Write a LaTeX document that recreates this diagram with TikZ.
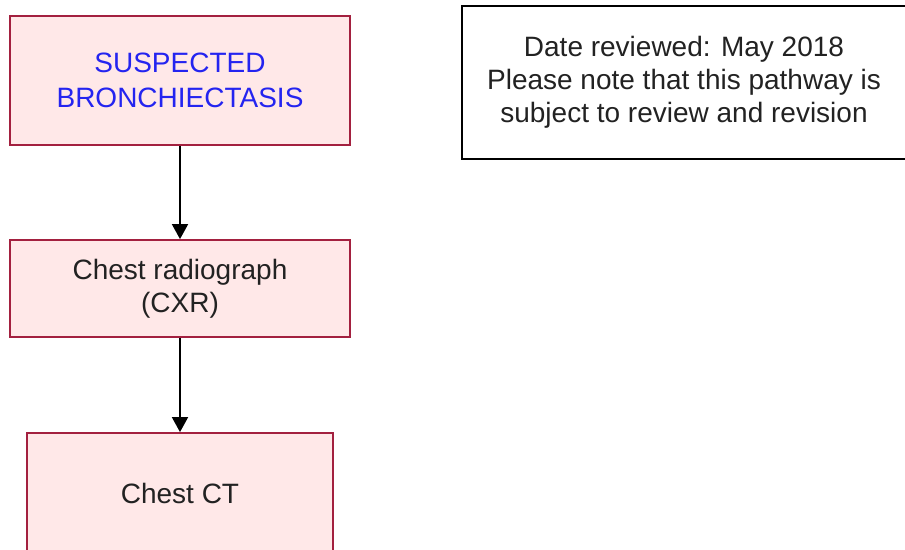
\documentclass[tikz,border=0pt]{standalone}
\usepackage{fontspec}
\setmainfont{Liberation Sans}
\usepackage{tikz}
\usetikzlibrary{arrows.meta,shapes}
\definecolor{boxfill}{HTML}{FFE8E8}
\definecolor{boxline}{HTML}{A3203F}
\definecolor{headblue}{HTML}{2424F0}
\definecolor{textgrey}{HTML}{222222}
\tikzstyle{stepbox}=[rectangle,draw=boxline,fill=boxfill,line width=1.8pt,align=center,inner sep=0pt,text=textgrey,font=\fontsize{28}{33}\selectfont]
\tikzstyle{notebox}=[rectangle,draw=black,fill=white,line width=1.8pt,align=center,inner sep=0pt,text=textgrey,font=\fontsize{28}{33}\selectfont]
\tikzstyle{arrow}=[draw,line width=1.8pt,-{Triangle[width=16pt,length=15pt]}]

\begin{document}
\begin{tikzpicture}[x=1pt,y=-1pt]
    \useasboundingbox (0,0) rectangle (905,549);
    \node[stepbox,minimum width=340pt,minimum height=129pt,text=headblue,font=\fontsize{28}{35}\selectfont] (suspect) at (180,80.5) {SUSPECTED\\BRONCHIECTASIS};
    \node[stepbox,minimum width=340pt,minimum height=97pt] (cxr) at (180,288.5) {Chest radiograph\\(CXR)};
    \node[stepbox,minimum width=306pt,minimum height=120pt] (ct) at (180,493) {Chest CT};
    \node[notebox,minimum width=444pt,minimum height=153pt] (note) at (684,82.5) {Date reviewed: May 2018\\Please note that this pathway is\\subject to review and revision};
    \foreach \source/\dest in {suspect/cxr, cxr/ct}
        \path[arrow] (\source) -- (\dest);
\end{tikzpicture}
\end{document}
